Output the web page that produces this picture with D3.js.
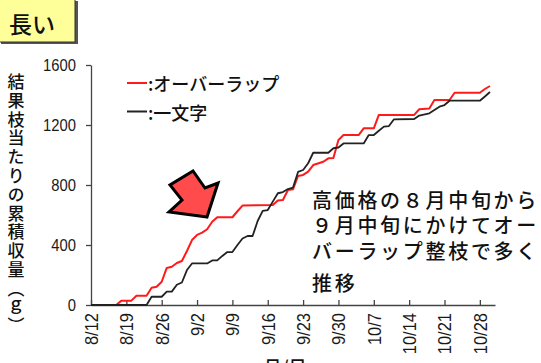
<!DOCTYPE html>
<html>
<head>
<meta charset="utf-8">
<script src="https://cdn.jsdelivr.net/npm/d3@7"></script>
<style>
  html, body { margin: 0; padding: 0; background: #fff; }
  svg { display: block; }
  .tick text { font-family: "Liberation Sans", Arial, sans-serif; fill: #1a1a1a; }
  .jp { font-family: "Noto Sans CJK JP", sans-serif; fill: #111; font-weight: 500; }
</style>
</head>
<body>
<svg id="chart" width="541" height="363"></svg>
<script>
// Cumulative yield per fruiting branch (g), オーバーラップ vs 一文字
const overlapDates = ["8/12","8/17","8/18","8/20","8/21","8/23","8/24","8/25","8/26","8/27","8/28","8/29","8/30","8/31","9/1","9/2","9/3","9/4","9/5","9/6","9/9","9/10","9/11","9/17","9/18","9/19","9/20","9/21","9/22","9/23","9/24","9/25","9/27","9/28","9/29","9/30","10/1","10/4","10/5","10/7","10/8","10/15","10/16","10/18","10/19","10/22","10/23","10/28","10/29","10/30"];
const overlapValues = [0,0,29,29,62,62,115,122,155,247,255,280,293,360,433,467,482,505,555,585,585,625,663,667,697,700,767,771,860,867,889,933,955,978,980,1100,1133,1133,1178,1178,1267,1267,1305,1310,1367,1367,1415,1415,1440,1460];

const ichimonjiDates = ["8/12","8/23","8/24","8/26","8/27","8/28","8/29","8/30","8/31","9/1","9/4","9/5","9/6","9/7","9/8","9/9","9/10","9/11","9/12","9/13","9/14","9/15","9/16","9/17","9/18","9/19","9/20","9/21","9/22","9/23","9/24","9/25","9/28","9/29","9/30","10/1","10/5","10/6","10/7","10/8","10/9","10/10","10/11","10/15","10/16","10/18","10/20","10/21","10/22","10/28","10/29","10/30"];
const ichimonjiValues = [0,0,55,55,89,89,135,150,233,277,277,297,297,327,353,353,400,443,460,460,560,627,633,689,745,753,773,783,887,900,945,1015,1015,1045,1050,1077,1077,1133,1133,1162,1189,1193,1238,1240,1263,1278,1322,1333,1362,1362,1390,1420];

const xTickLabels = ["8/12","8/19","8/26","9/2","9/9","9/16","9/23","9/30","10/7","10/14","10/21","10/28"];
const yTickValues = [0, 400, 800, 1200, 1600];

const seriesNames = [":オーバーラップ", ":一文字"];
const yTitle = "結果枝当たりの累積収量（ｇ）";
const xTitle = "月/日";
const badge = "長い";
const noteLines = ["高価格の８月中旬から", "９月中旬にかけてオー", "バーラップ整枝で多く", "推移"];

const parse = d3.timeParse("%m/%d");
const svg = d3.select("#chart");

const x = d3.scaleTime()
  .domain([parse("8/12"), parse("10/31")])
  .range([91, 495]);
const y = d3.scaleLinear()
  .domain([0, 1600])
  .range([305, 65]);

// badge in the top-left corner
svg.append("rect").attr("x", 1).attr("y", 1).attr("width", 77).attr("height", 43).attr("fill", "#555");
svg.append("rect").attr("x", -2).attr("y", -2).attr("width", 77).attr("height", 44)
  .attr("fill", "#ffff99").attr("stroke", "#333").attr("stroke-width", 1);
svg.append("text").attr("class", "jp").attr("x", 9).attr("y", 23)
  .attr("dominant-baseline", "central").style("font-size", "23px").text(badge);

// y axis; digits are set a little narrow
const yAxis = svg.append("g").attr("transform", "translate(91,0)")
  .call(d3.axisLeft(y).tickValues(yTickValues).tickSize(5).tickSizeOuter(0).tickPadding(10).tickFormat(d3.format("d")));
yAxis.selectAll("text")
  .style("font-size", "17px")
  .attr("x", -15 / 0.87)
  .attr("transform", "scale(0.87,1)");

// x axis with inward ticks and vertical labels
const xAxis = svg.append("g").attr("transform", "translate(0,305)")
  .call(d3.axisBottom(x).tickValues(xTickLabels.map(parse)).tickSizeInner(-5).tickSizeOuter(0)
    .tickFormat(d3.timeFormat("%-m/%-d")));
xAxis.selectAll("text")
  .attr("transform", "rotate(-90) scale(1,1.12)")
  .attr("x", -8).attr("y", 0).attr("dy", "0.35em")
  .style("text-anchor", "end").style("font-size", "16.5px");

svg.selectAll(".domain, .tick line").attr("stroke", "#444").attr("stroke-width", 1.3);

// series lines
const line = d3.line().x(d => x(d[0])).y(d => y(d[1]));
const overlap = overlapDates.map((d, i) => [parse(d), overlapValues[i]]);
const ichimonji = ichimonjiDates.map((d, i) => [parse(d), ichimonjiValues[i]]);

svg.append("path").datum(overlap).attr("d", line)
  .attr("fill", "none").attr("stroke", "#ff1a1a").attr("stroke-width", 2).attr("stroke-linejoin", "round");
svg.append("path").datum(ichimonji).attr("d", line)
  .attr("fill", "none").attr("stroke", "#222").attr("stroke-width", 1.8).attr("stroke-linejoin", "round");

// legend
const legendColors = ["#ff1a1a", "#222"];
seriesNames.forEach((name, i) => {
  const ly = 83 + i * 28.5;
  svg.append("line").attr("x1", 127).attr("x2", 147).attr("y1", ly).attr("y2", ly)
    .attr("stroke", legendColors[i]).attr("stroke-width", 2);
  svg.append("text").attr("class", "jp").attr("x", 148).attr("y", ly)
    .attr("dominant-baseline", "central").style("font-size", "18px").text(name);
});

// y axis title, set vertically
svg.append("text").attr("class", "jp")
  .attr("x", 16).attr("y", 73)
  .attr("writing-mode", "vertical-rl")
  .style("font-size", "17px").style("letter-spacing", "1.8px")
  .text(yTitle);

// x axis title
svg.append("text").attr("class", "jp")
  .attr("x", 285).attr("y", 374).attr("text-anchor", "middle")
  .style("font-size", "18px").text(xTitle);

// callout arrow
const arrowPts = [[207, 217], [169, 212], [182, 200], [170, 185], [193, 171], [205, 188], [218, 183]];
svg.append("polygon").attr("points", arrowPts.map(p => p.join(",")).join(" "))
  .attr("fill", "#ff4b4b").attr("stroke", "#000").attr("stroke-width", 3).attr("stroke-linejoin", "miter");

// annotation
const noteY = [199, 224, 250, 282];
noteLines.forEach((t, i) => {
  svg.append("text").attr("class", "jp").attr("x", 312).attr("y", noteY[i])
    .attr("dominant-baseline", "central")
    .style("font-size", "20px").style("letter-spacing", "2.7px").text(t);
});
</script>
</body>
</html>
